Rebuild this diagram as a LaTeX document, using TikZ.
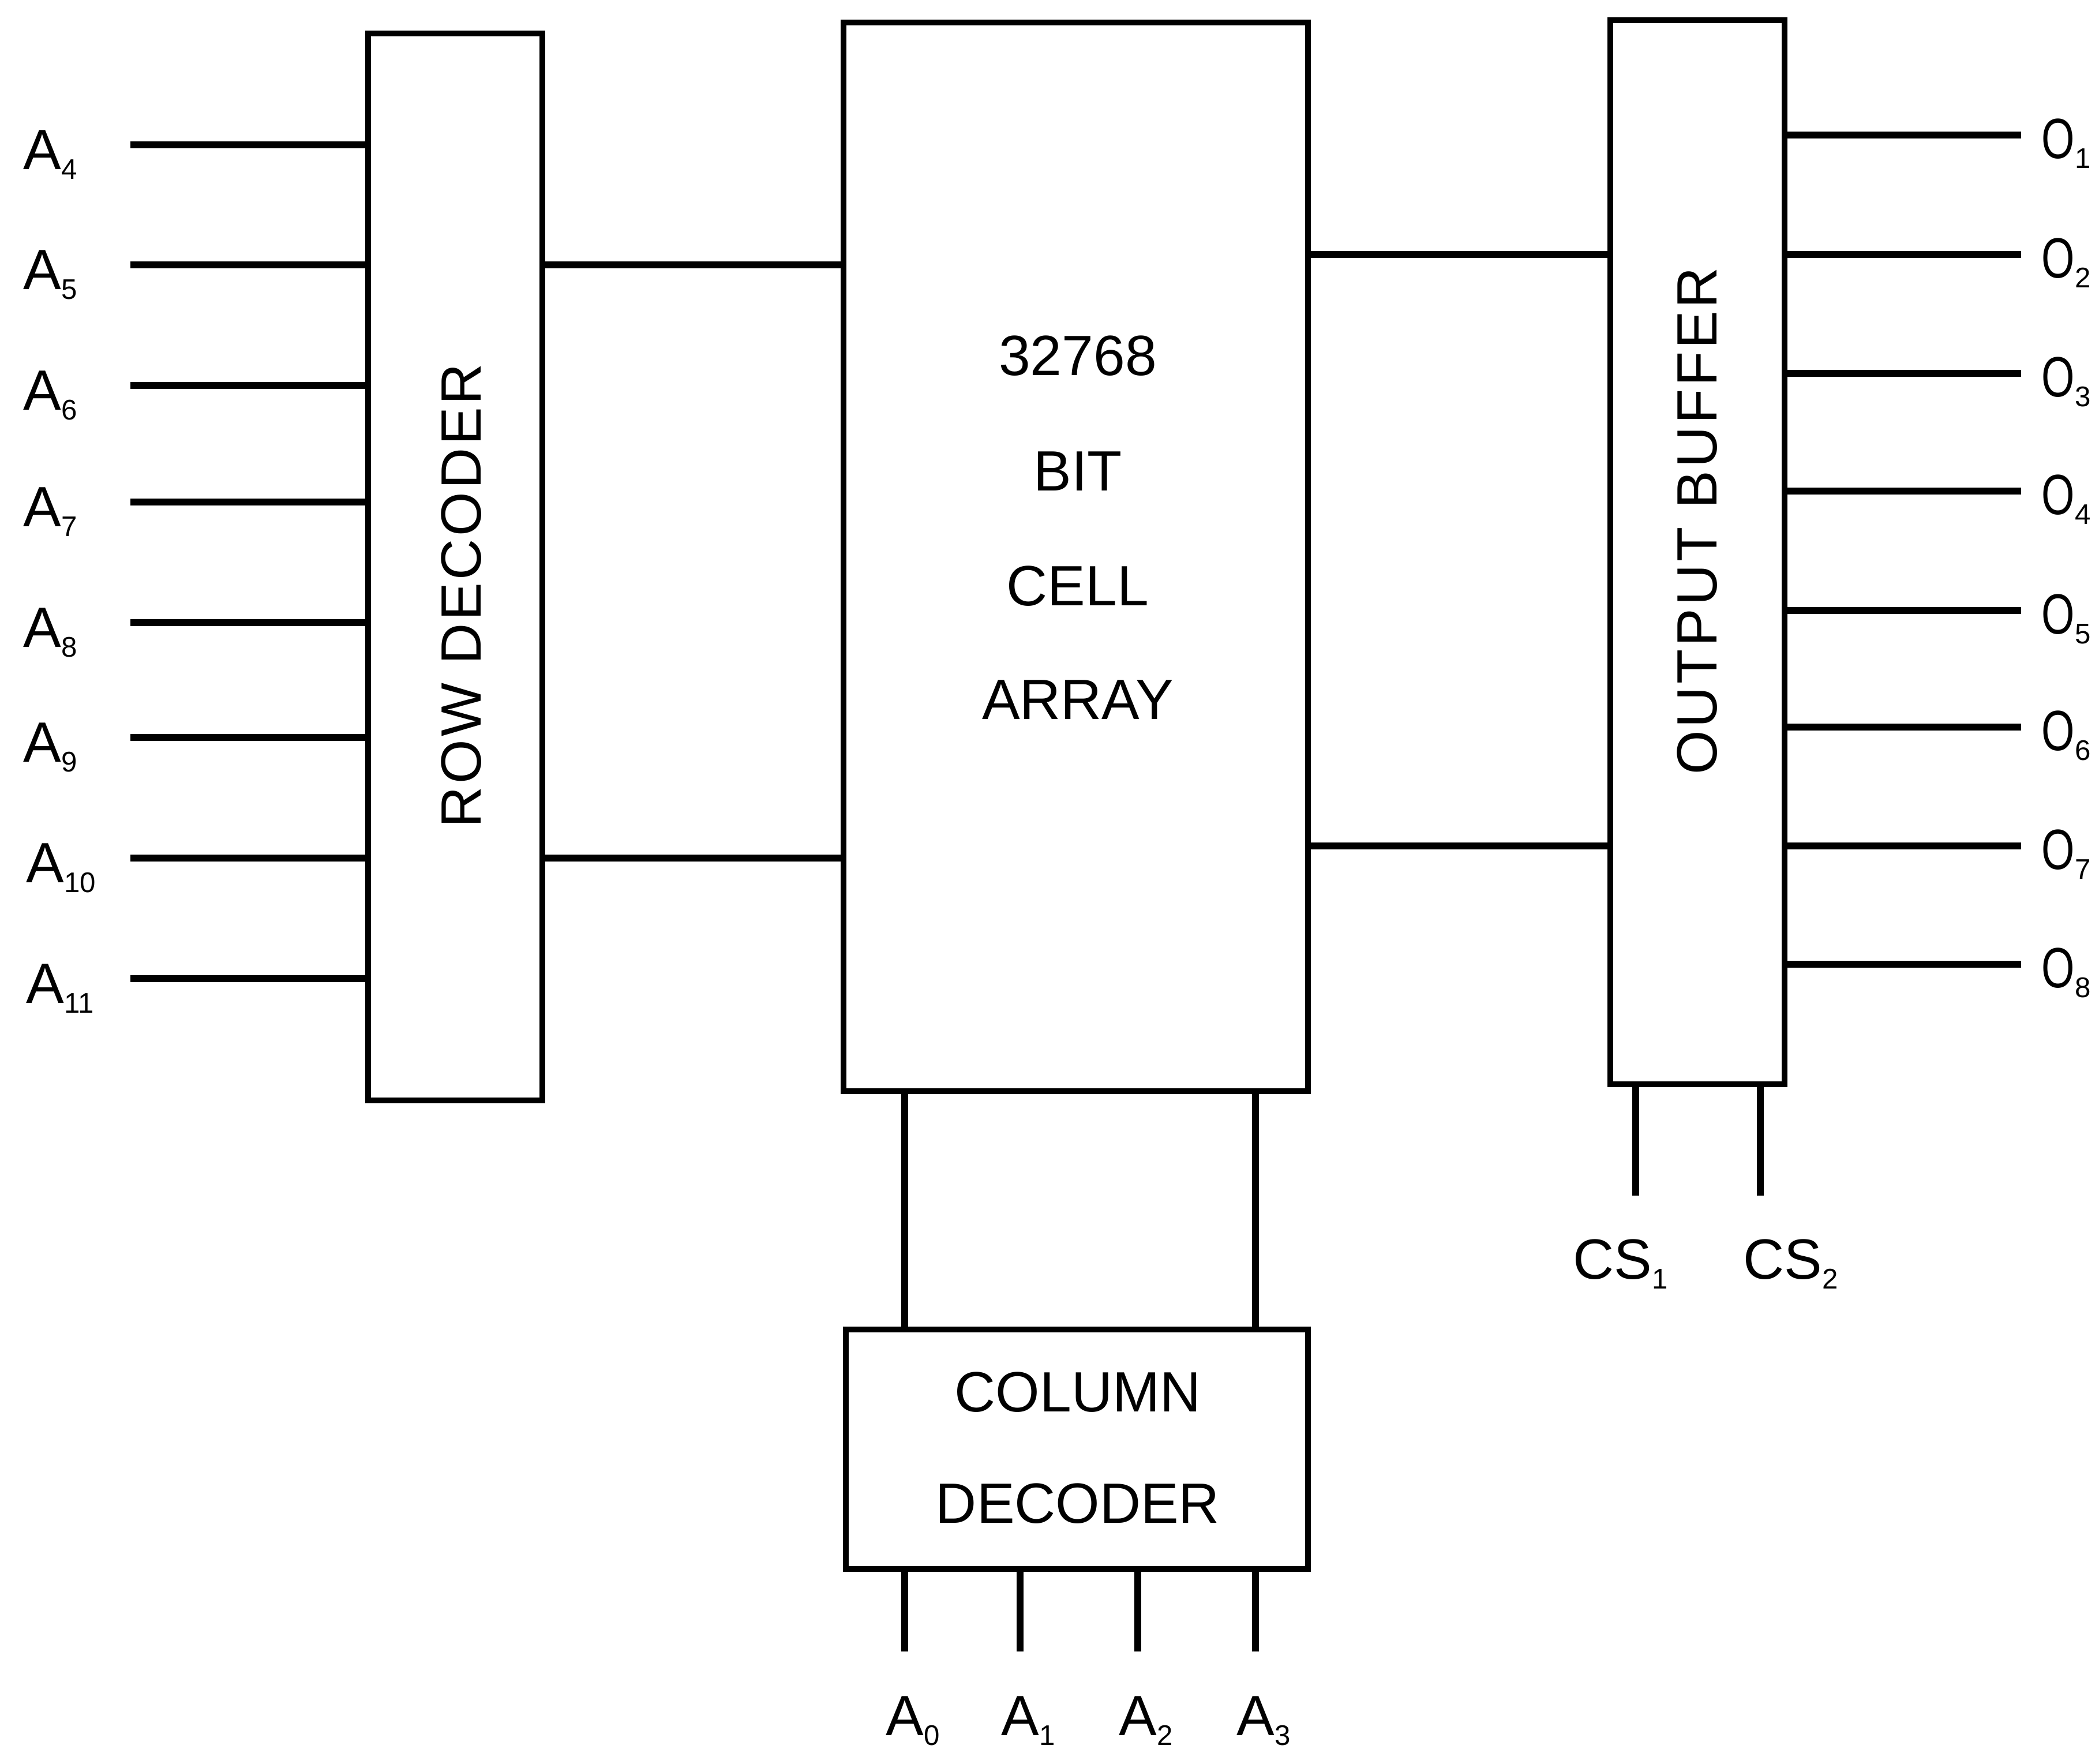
\documentclass[tikz,border=0pt]{standalone}
\usepackage{fontspec}
\setmainfont{Liberation Sans}
\newcommand{\lowidx}[1]{\raisebox{-5pt}{\fontsize{14}{14}\selectfont #1}}
\newcommand{\narrowO}{\scalebox{0.75}[1]{O}}

\begin{document}
\begin{tikzpicture}[
    blk/.style={draw, line width=2.6pt, inner sep=0pt},
    lead/.style={line width=3.2pt},
    lbl/.style={font=\fontsize{28}{34}\selectfont, inner sep=0pt}
]
    \useasboundingbox (0,0) rectangle (36.38,-30.56);
    \node[blk, minimum width=3.02cm, minimum height=18.49cm] (rowdec) at (7.89,-9.825) {};
    \node[blk, minimum width=8.05cm, minimum height=18.52cm] (cell) at (18.645,-9.65) {};
    \node[blk, minimum width=3.02cm, minimum height=18.44cm] (buf) at (29.42,-9.57) {};
    \node[blk, minimum width=8.01cm, minimum height=4.15cm] (coldec) at (18.665,-25.115) {};
    \node[lbl, rotate=90] (rowtxt) at (8.00,-10.32) {\addfontfeature{LetterSpace=5}ROW DECODER};
    \node[lbl, rotate=90] (buftxt) at (29.42,-9.03) {\addfontfeature{LetterSpace=5}OUTPUT BUFFER};
    \node[lbl] (celltxt1) at (18.68,-6.17) {32768};
    \node[lbl] (celltxt2) at (18.68,-8.17) {BIT};
    \node[lbl] (celltxt3) at (18.68,-10.16) {CELL};
    \node[lbl] (celltxt4) at (18.68,-12.13) {ARRAY};
    \node[lbl] (coltxt1) at (18.68,-24.13) {COLUMN};
    \node[lbl] (coltxt2) at (18.68,-26.06) {DECODER};
    \coordinate (in4) at (2.26,-2.51);
    \coordinate (in5) at (2.26,-4.59);
    \coordinate (in6) at (2.26,-6.68);
    \coordinate (in7) at (2.26,-8.70);
    \coordinate (in8) at (2.26,-10.79);
    \coordinate (in9) at (2.26,-12.78);
    \coordinate (in10) at (2.26,-14.87);
    \coordinate (in11) at (2.26,-16.96);
    \draw[lead] (in4) -- (in4 -| rowdec.west);
    \draw[lead] (in5) -- (in5 -| rowdec.west);
    \draw[lead] (in6) -- (in6 -| rowdec.west);
    \draw[lead] (in7) -- (in7 -| rowdec.west);
    \draw[lead] (in8) -- (in8 -| rowdec.west);
    \draw[lead] (in9) -- (in9 -| rowdec.west);
    \draw[lead] (in10) -- (in10 -| rowdec.west);
    \draw[lead] (in11) -- (in11 -| rowdec.west);
    \node[lbl, anchor=base west] (la4) at (0.40,-2.93) {A\lowidx{4}};
    \node[lbl, anchor=base west] (la5) at (0.40,-5.01) {A\lowidx{5}};
    \node[lbl, anchor=base west] (la6) at (0.40,-7.10) {A\lowidx{6}};
    \node[lbl, anchor=base west] (la7) at (0.40,-9.12) {A\lowidx{7}};
    \node[lbl, anchor=base west] (la8) at (0.40,-11.21) {A\lowidx{8}};
    \node[lbl, anchor=base west] (la9) at (0.40,-13.20) {A\lowidx{9}};
    \node[lbl, anchor=base west] (la10) at (0.45,-15.29) {A\lowidx{10}};
    \node[lbl, anchor=base west] (la11) at (0.45,-17.38) {A\lowidx{11}};
    \draw[lead] (rowdec.east |- in5) -- (cell.west |- in5);
    \draw[lead] (rowdec.east |- in10) -- (cell.west |- in10);
    \coordinate (o1) at (35.03,-2.34);
    \coordinate (o2) at (35.03,-4.41);
    \coordinate (o3) at (35.03,-6.47);
    \coordinate (o4) at (35.03,-8.51);
    \coordinate (o5) at (35.03,-10.58);
    \coordinate (o6) at (35.03,-12.60);
    \coordinate (o7) at (35.03,-14.66);
    \coordinate (o8) at (35.03,-16.71);
    \draw[lead] (buf.east |- o1) -- (o1);
    \draw[lead] (buf.east |- o2) -- (o2);
    \draw[lead] (buf.east |- o3) -- (o3);
    \draw[lead] (buf.east |- o4) -- (o4);
    \draw[lead] (buf.east |- o5) -- (o5);
    \draw[lead] (buf.east |- o6) -- (o6);
    \draw[lead] (buf.east |- o7) -- (o7);
    \draw[lead] (buf.east |- o8) -- (o8);
    \node[lbl, anchor=base west] (lo1) at (35.38,-2.74) {\narrowO\lowidx{1}};
    \node[lbl, anchor=base west] (lo2) at (35.38,-4.81) {\narrowO\lowidx{2}};
    \node[lbl, anchor=base west] (lo3) at (35.38,-6.87) {\narrowO\lowidx{3}};
    \node[lbl, anchor=base west] (lo4) at (35.38,-8.91) {\narrowO\lowidx{4}};
    \node[lbl, anchor=base west] (lo5) at (35.38,-10.98) {\narrowO\lowidx{5}};
    \node[lbl, anchor=base west] (lo6) at (35.38,-13.00) {\narrowO\lowidx{6}};
    \node[lbl, anchor=base west] (lo7) at (35.38,-15.06) {\narrowO\lowidx{7}};
    \node[lbl, anchor=base west] (lo8) at (35.38,-17.11) {\narrowO\lowidx{8}};
    \draw[lead] (cell.east |- o2) -- (buf.west |- o2);
    \draw[lead] (cell.east |- o7) -- (buf.west |- o7);
    \coordinate (a0) at (15.68,-28.62);
    \coordinate (a1) at (17.68,-28.62);
    \coordinate (a2) at (19.72,-28.62);
    \coordinate (a3) at (21.76,-28.62);
    \draw[lead] (coldec.south -| a0) -- (a0);
    \draw[lead] (coldec.south -| a1) -- (a1);
    \draw[lead] (coldec.south -| a2) -- (a2);
    \draw[lead] (coldec.south -| a3) -- (a3);
    \node[lbl, anchor=base] (la0) at (15.82,-30.07) {A\lowidx{0}};
    \node[lbl, anchor=base] (la1) at (17.82,-30.07) {A\lowidx{1}};
    \node[lbl, anchor=base] (la2) at (19.86,-30.07) {A\lowidx{2}};
    \node[lbl, anchor=base] (la3) at (21.90,-30.07) {A\lowidx{3}};
    \draw[lead] (cell.south -| a0) -- (coldec.north -| a0);
    \draw[lead] (cell.south -| a3) -- (coldec.north -| a3);
    \coordinate (cs1) at (28.35,-20.72);
    \coordinate (cs2) at (30.51,-20.72);
    \draw[lead] (buf.south -| cs1) -- (cs1);
    \draw[lead] (buf.south -| cs2) -- (cs2);
    \node[lbl, anchor=base west] (lcs1) at (27.26,-22.16) {CS\lowidx{1}};
    \node[lbl, anchor=base west] (lcs2) at (30.21,-22.16) {CS\lowidx{2}};
\end{tikzpicture}
\end{document}
